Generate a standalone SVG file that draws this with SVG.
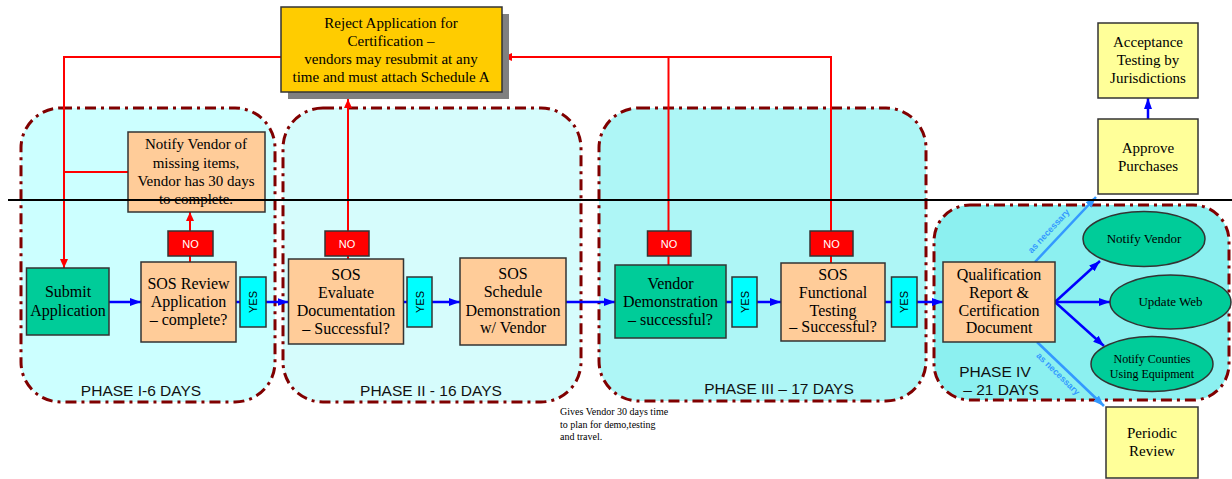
<svg xmlns="http://www.w3.org/2000/svg" width="1232" height="479" viewBox="0 0 1232 479">
<style>
.box{stroke:#333;stroke-width:1.5}
.peach{fill:#FFCC99}
.teal{fill:#00CC99}
.yellow{fill:#FFFF99}
.gold{fill:#FFCC00}
.no{fill:#FF0000}
.yes{fill:#00FFFF}
.phase{stroke:#800000;stroke-width:3;stroke-dasharray:11 5 3 5}
.t{font-family:"Liberation Serif","Times New Roman",serif;font-size:15px;fill:#000;text-anchor:middle}
.t16{font-size:16px}
.note{font-family:"Liberation Serif","Times New Roman",serif;font-size:10px;fill:#000}
.diag{font-family:"Liberation Sans",Arial,sans-serif;font-size:9px;font-weight:bold;fill:#3399FF;text-anchor:middle}
.pl{font-family:"Liberation Sans",Arial,sans-serif;font-size:15.5px;fill:#111;text-anchor:middle}
.lab{font-family:"Liberation Sans",Arial,sans-serif;font-size:11px;text-anchor:middle}
.red{stroke:#FF0000;stroke-width:2;fill:none}
.blue{stroke:#0000FF;stroke-width:2.5;fill:none}
.lblue{stroke:#3399FF;stroke-width:2.5;fill:none}
</style>
<defs>
<marker id="ar" markerUnits="userSpaceOnUse" markerWidth="10" markerHeight="10" refX="9" refY="5" orient="auto"><path d="M0,1 L9,5 L0,9 z" fill="#FF0000"/></marker>
<marker id="ab" markerUnits="userSpaceOnUse" markerWidth="12" markerHeight="10" refX="11" refY="5" orient="auto"><path d="M0,1 L11,5 L0,9 z" fill="#0000FF"/></marker>
<marker id="al" markerUnits="userSpaceOnUse" markerWidth="12" markerHeight="10" refX="11" refY="5" orient="auto"><path d="M0,1 L11,5 L0,9 z" fill="#3399FF"/></marker>
</defs>

<g id="phases">
<rect id="phase1" class="phase" x="21" y="108" width="254" height="294" rx="40" fill="#CCFFFF"/>
<rect id="phase2" class="phase" x="283" y="108" width="298" height="294" rx="40" fill="#D6FCFC"/>
<rect id="phase3" class="phase" x="599" y="108" width="327" height="293" rx="40" fill="#AEF6F6"/>
<rect id="phase4" class="phase" x="934" y="205" width="295" height="195" rx="36" fill="#8CF0F0"/>
<text class="pl" x="141" y="396">PHASE I-6 DAYS</text>
<text class="pl" x="431" y="396">PHASE II - 16 DAYS</text>
<text class="pl" x="779" y="394">PHASE III – 17 DAYS</text>
<text class="pl" x="995" y="377">PHASE IV</text>
<text class="pl" x="1001" y="395">– 21 DAYS</text>
</g>

<g id="connectors">
<path class="red" d="M281,57 H64 V268" marker-end="url(#ar)"/>
<path class="red" d="M128,172 H64"/>
<path class="red" d="M190,231 V212" marker-end="url(#ar)"/>
<path class="red" d="M190,256 V262"/>
<path class="red" d="M348,231 V99" marker-end="url(#ar)"/>
<path class="red" d="M348,256 V259"/>
<path class="red" d="M668.5,231 V57"/>
<path class="red" d="M668.5,256 V265"/>
<path class="red" d="M831,231 V57 H503" marker-end="url(#ar)"/>
<path class="red" d="M831,256 V263"/>
<path class="blue" d="M109,302 H141" marker-end="url(#ab)"/>
<path class="blue" d="M236,302 H240"/>
<path class="blue" d="M266,302 H288.5" marker-end="url(#ab)"/>
<path class="blue" d="M403.5,302 H407"/>
<path class="blue" d="M432,302 H460" marker-end="url(#ab)"/>
<path class="blue" d="M566,302 H615" marker-end="url(#ab)"/>
<path class="blue" d="M726,302 H732"/>
<path class="blue" d="M757,302 H781" marker-end="url(#ab)"/>
<path class="blue" d="M885,302 H891.5"/>
<path class="blue" d="M917,302 H943" marker-end="url(#ab)"/>
<path class="blue" d="M1055,302 L1100,261" marker-end="url(#ab)"/>
<path class="blue" d="M1055,302 H1110" marker-end="url(#ab)"/>
<path class="blue" d="M1055,302 L1104,346" marker-end="url(#ab)"/>
<path class="blue" d="M1148,119 V98" marker-end="url(#ab)"/>
<path class="lblue" d="M1035,262 L1096,197" marker-end="url(#al)"/>
<path class="lblue" d="M1037,342 L1104,406" marker-end="url(#al)"/>
<text class="diag" transform="translate(1051,233) rotate(-47)">as necessary</text>
<text class="diag" transform="translate(1056,376) rotate(44)">as necessary</text>
</g>

<g id="reject">
<rect x="288" y="14" width="221" height="85" fill="#808080"/>
<rect class="box gold" x="281" y="7" width="221" height="85"/>
<text class="t" x="391" y="28">Reject Application for</text>
<text class="t" x="391" y="46">Certification –</text>
<text class="t" x="391" y="64">vendors may resubmit at any</text>
<text class="t" x="391" y="82">time and must attach Schedule A</text>
</g>

<g id="notify-missing">
<rect class="box peach" x="128" y="132" width="137" height="80"/>
<text class="t" x="196" y="149">Notify Vendor of</text>
<text class="t" x="196" y="168">missing items,</text>
<text class="t" x="196" y="186">Vendor has 30 days</text>
<text class="t" x="196" y="204">to complete.</text>
</g>

<g id="submit">
<rect class="box teal" x="26.5" y="268" width="82.5" height="67"/>
<text class="t t16" x="68" y="297">Submit</text>
<text class="t t16" x="68" y="316">Application</text>
</g>

<g id="sos-review">
<rect class="box peach" x="141" y="262" width="95" height="80"/>
<text class="t t16" x="188.5" y="289">SOS Review</text>
<text class="t t16" x="188.5" y="307">Application</text>
<text class="t t16" x="188.5" y="325">– complete?</text>
</g>

<g id="no1"><rect class="box no" x="168" y="231" width="45" height="25"/><text class="lab" x="190.5" y="247.5" fill="#fff">NO</text></g>
<g id="yes1"><rect class="box yes" x="240" y="277" width="26" height="50"/><text class="lab" transform="translate(257,302) rotate(-90)">YES</text></g>

<g id="evaluate">
<rect class="box peach" x="288.5" y="259" width="115" height="85"/>
<text class="t t16" x="346" y="280">SOS</text>
<text class="t t16" x="346" y="298">Evaluate</text>
<text class="t t16" x="346" y="316">Documentation</text>
<text class="t t16" x="346" y="334">– Successful?</text>
</g>
<g id="no2"><rect class="box no" x="325" y="231" width="44" height="25"/><text class="lab" x="347" y="247.5" fill="#fff">NO</text></g>
<g id="yes2"><rect class="box yes" x="407" y="277" width="25" height="50"/><text class="lab" transform="translate(423.5,302) rotate(-90)">YES</text></g>

<g id="schedule">
<rect class="box peach" x="460" y="258" width="106" height="87"/>
<text class="t t16" x="513" y="279">SOS</text>
<text class="t t16" x="513" y="297">Schedule</text>
<text class="t t16" x="513" y="316">Demonstration</text>
<text class="t t16" x="513" y="333">w/ Vendor</text>
</g>

<g id="note">
<text class="note" x="560" y="415">Gives Vendor 30 days time</text>
<text class="note" x="560" y="428">to plan for demo,testing</text>
<text class="note" x="560" y="440">and travel.</text>
</g>

<g id="vendor-demo">
<rect class="box teal" x="615" y="265" width="111" height="73"/>
<text class="t t16" x="670.5" y="289">Vendor</text>
<text class="t t16" x="670.5" y="307">Demonstration</text>
<text class="t t16" x="670.5" y="325">– successful?</text>
</g>
<g id="no3"><rect class="box no" x="647.5" y="231" width="43.5" height="25"/><text class="lab" x="669" y="247.5" fill="#fff">NO</text></g>
<g id="yes3"><rect class="box yes" x="732" y="277" width="25" height="50"/><text class="lab" transform="translate(748.5,302) rotate(-90)">YES</text></g>

<g id="functional">
<rect class="box peach" x="781" y="263" width="104" height="78"/>
<text class="t t16" x="833" y="280">SOS</text>
<text class="t t16" x="833" y="298">Functional</text>
<text class="t t16" x="833" y="316">Testing</text>
<text class="t t16" x="833" y="332">– Successful?</text>
</g>
<g id="no4"><rect class="box no" x="810" y="231" width="43" height="25"/><text class="lab" x="831.5" y="247.5" fill="#fff">NO</text></g>
<g id="yes4"><rect class="box yes" x="891.5" y="277" width="25.5" height="50"/><text class="lab" transform="translate(908,302) rotate(-90)">YES</text></g>

<g id="qualification">
<rect class="box peach" x="943" y="262" width="112" height="80"/>
<text class="t t16" x="999" y="280">Qualification</text>
<text class="t t16" x="999" y="298">Report &amp;</text>
<text class="t t16" x="999" y="316">Certification</text>
<text class="t t16" x="999" y="333">Document</text>
</g>

<g id="notify-vendor">
<ellipse class="box teal" cx="1144" cy="239" rx="61" ry="27.5"/>
<text class="t" x="1144" y="243" style="font-size:13px">Notify Vendor</text>
</g>
<g id="update-web">
<ellipse class="box teal" cx="1170.5" cy="302" rx="60.5" ry="27"/>
<text class="t" x="1170.5" y="306" style="font-size:13px">Update Web</text>
</g>
<g id="notify-counties">
<ellipse class="box teal" cx="1152" cy="364" rx="61" ry="27.5"/>
<text class="t" x="1152" y="363" style="font-size:12px">Notify Counties</text>
<text class="t" x="1152" y="378" style="font-size:12px">Using Equipment</text>
</g>

<g id="approve">
<rect class="box yellow" x="1098" y="119" width="100" height="75"/>
<text class="t" x="1148" y="153">Approve</text>
<text class="t" x="1148" y="171">Purchases</text>
</g>
<g id="acceptance">
<rect class="box yellow" x="1098" y="23" width="100" height="75"/>
<text class="t" x="1148" y="47">Acceptance</text>
<text class="t" x="1148" y="65">Testing by</text>
<text class="t" x="1148" y="83">Jurisdictions</text>
</g>
<g id="periodic">
<rect class="box yellow" x="1106" y="407" width="92" height="71"/>
<text class="t" x="1152" y="438">Periodic</text>
<text class="t" x="1152" y="456">Review</text>
</g>

<line id="divider" x1="8" y1="200" x2="1232" y2="200" stroke="#000" stroke-width="2"/>
</svg>
